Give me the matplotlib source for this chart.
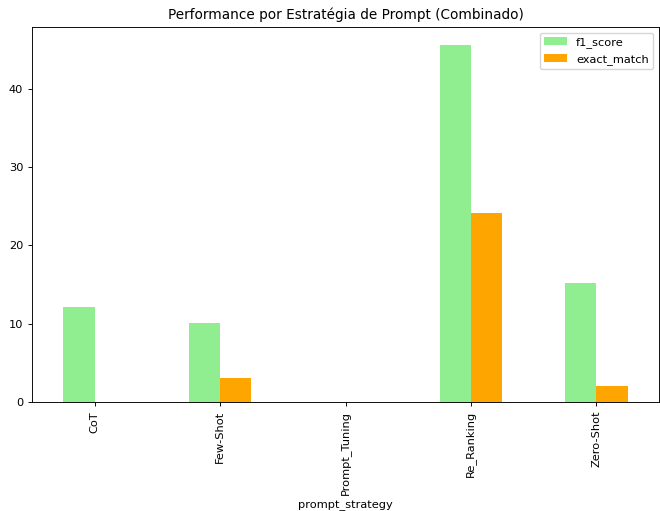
import matplotlib
matplotlib.use('Agg')
import matplotlib.pyplot as plt
import pandas as pd

strategies = ['CoT', 'Few-Shot', 'Prompt_Tuning', 'Re_Ranking', 'Zero-Shot']
f1_score = [12.15, 10.05, 0.0, 45.6, 15.25]
exact_match = [0.0, 3.05, 0.0, 24.1, 2.1]

# the original looks like a bigger figure shrunk down, so scale the text
s = 0.82
plt.rcParams['font.size'] = 10 * s
plt.rcParams['axes.titlesize'] = 12 * s
plt.rcParams['axes.linewidth'] = 0.8 * s
plt.rcParams['xtick.major.size'] = 3.5 * s
plt.rcParams['ytick.major.size'] = 3.5 * s
plt.rcParams['xtick.major.width'] = 0.8 * s
plt.rcParams['ytick.major.width'] = 0.8 * s

df = pd.DataFrame({'f1_score': f1_score, 'exact_match': exact_match},
                  index=pd.Index(strategies, name='prompt_strategy'))

fig, ax = plt.subplots(figsize=(6.6, 5.11), dpi=100)
df.plot(kind='bar', ax=ax, color=['lightgreen', 'orange'])
ax.set_title('Performance por Estratégia de Prompt (Combinado)')
fig.subplots_adjust(left=0.0485, right=0.9985, top=0.947, bottom=0.2133)
plt.savefig('out.png', dpi=100)
